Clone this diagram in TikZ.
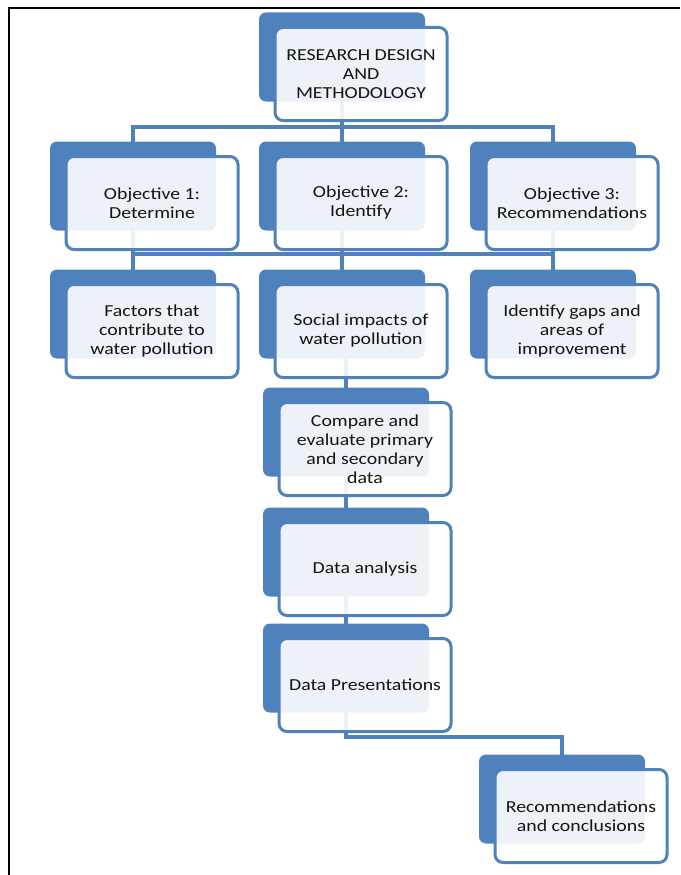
\documentclass[tikz,border=0pt]{standalone}
\usepackage{fontspec}
\setmainfont{Carlito}[FakeStretch=1.18]
\usetikzlibrary{backgrounds}
\definecolor{rdblue}{HTML}{4F81BD}
\definecolor{rdtext}{HTML}{141414}

\begin{document}
\begin{tikzpicture}[
    x=1pt, y=-1pt,
    backbox/.style={fill=rdblue, rounded corners=7pt, inner sep=0pt,
      minimum width=166pt, minimum height=89pt},
    frontbox/.style={draw=rdblue, line width=3pt, fill=white,
      fill opacity=0.9, text opacity=1, rounded corners=8pt, inner sep=0pt,
      minimum width=172pt, minimum height=93pt, align=center, text=rdtext,
      font=\fontsize{16.8}{19}\selectfont},
    link/.style={rdblue, line width=3.2pt}]

  \useasboundingbox (0,0) rectangle (680,875);

  % page frame (top and left edges only)
  \draw[black, line width=1.4pt] (680,8) -- (9,8) -- (9,875);

  % top
  \node[backbox]  (topb) at (342,57) {};
  \node[frontbox] (top)  at (361,74) {RESEARCH DESIGN\\AND\\METHODOLOGY};

  % objectives
  \node[backbox]  (o1b) at (133,186) {};
  \node[frontbox] (o1)  at (152,203) {Objective 1:\\Determine};
  \node[backbox]  (o2b) at (342,186) {};
  \node[frontbox] (o2)  at (361,203) {Objective 2:\\Identify};
  \node[backbox]  (o3b) at (553,186) {};
  \node[frontbox] (o3)  at (572,203) {Objective 3:\\Recommendations};

  % outcomes
  \node[backbox]  (r1b) at (133,314) {};
  \node[frontbox] (r1)  at (152,331) {Factors that\\contribute to\\water pollution};
  \node[backbox]  (r2b) at (342,314) {};
  \node[frontbox] (r2)  at (361,331) {Social impacts of\\water pollution};
  \node[backbox]  (r3b) at (553,314) {};
  \node[frontbox] (r3)  at (572,331) {Identify gaps and\\areas of\\improvement};

  % main column
  \node[backbox]  (cmpb) at (346,432) {};
  \node[frontbox] (cmp)  at (365,449) {Compare and\\evaluate primary\\and secondary\\data};
  \node[backbox]  (anab) at (346,552) {};
  \node[frontbox] (ana)  at (365,569) {Data analysis};
  \node[backbox]  (presb) at (346,668) {};
  \node[frontbox] (pres)  at (365,685) {Data Presentations};
  \node[backbox]  (recb) at (562,799) {};
  \node[frontbox] (rec)  at (581,816) {Recommendations\\and conclusions};

  % connectors, behind the boxes
  \coordinate (bus1) at (342,127);
  \coordinate (bus2) at (342,254);
  \coordinate (bus3) at (454,737);
  \begin{scope}[on background layer]
    \draw[link] (o1b.center) |- (bus1) -| (o3b.center);
    \draw[link] (topb.center) -- (r2b.center);
    \draw[link] (o1b.center) -- (r1b.center);
    \draw[link] (o3b.center) -- (r3b.center);
    \draw[link] (r1b.center) |- (bus2) -| (r3b.center);
    \draw[link] (cmpb.center |- r2b.center) -- (presb.center);
    \draw[link] (presb.center) |- (bus3) -| (recb.center);
  \end{scope}
\end{tikzpicture}
\end{document}
